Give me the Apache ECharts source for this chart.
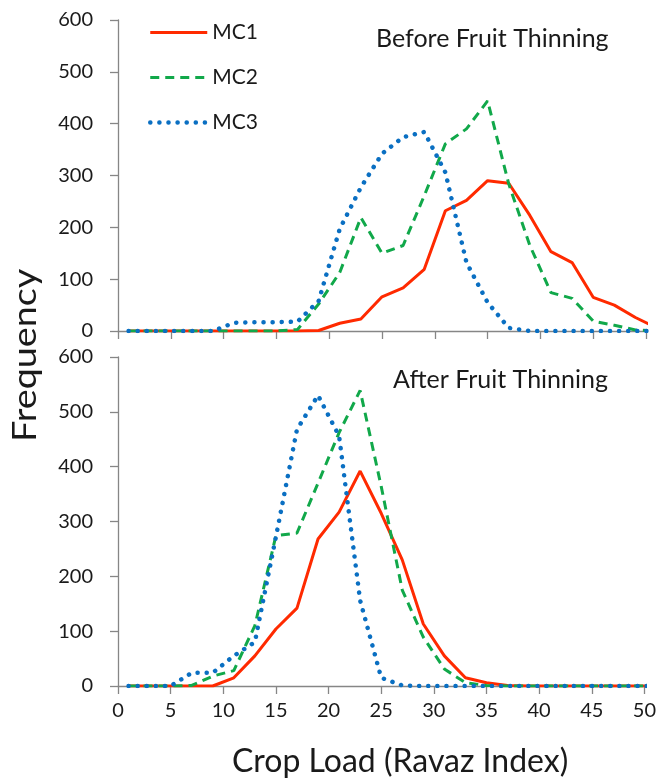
<!DOCTYPE html>
<html>
<head>
<meta charset="utf-8">
<title>Crop Load</title>
<script src="https://cdn.jsdelivr.net/npm/echarts@6/dist/echarts.min.js"></script>
<style>
  html, body { margin: 0; padding: 0; background: #fff; }
  #chart { width: 659px; height: 779px; }
</style>
</head>
<body>
<div id="chart"></div>
<script>
// crop load bins (Ravaz index), last one falls past the axis end
var cropLoad = [1, 3, 5, 7, 9, 11, 13, 15, 17, 19, 21, 23, 25, 27, 29, 31, 33, 35, 37, 39, 41, 43, 45, 47, 49, 51];

// before fruit thinning
var beforeMC1 = [0, 0, 0, 0, 0, 0, 0, 0, 0, 1, 15, 23, 66, 83, 119, 232, 252, 290, 285, 223, 153, 132, 65, 50, 26, 6];
var beforeMC2 = [0, 0, 0, 0, 0, 0, 0, 0, 3, 52, 113, 219, 150, 165, 261, 361, 390, 444, 284, 165, 74, 63, 19, 11, 2, 0];
var beforeMC3 = [0, 0, 0, 0, 0, 16, 17, 17, 18, 58, 197, 277, 342, 374, 384, 306, 132, 55, 6, 0, 0, 0, 0, 0, 0, 0];

// after fruit thinning
var afterMC1 = [0, 0, 0, 0, 0, 15, 55, 104, 142, 268, 317, 392, 315, 230, 113, 55, 15, 6, 1, 0, 0, 0, 0, 0, 0, 0];
var afterMC2 = [0, 0, 0, 1, 18, 28, 110, 274, 279, 370, 462, 539, 364, 175, 89, 31, 6, 1, 0, 0, 0, 0, 0, 0, 0, 0];
var afterMC3 = [0, 0, 0, 24, 24, 55, 80, 272, 468, 530, 456, 156, 15, 1, 0, 0, 0, 0, 0, 0, 0, 0, 0, 0, 0, 0];

var yTicks = [0, 100, 200, 300, 400, 500, 600];
var xTicks = [0, 5, 10, 15, 20, 25, 30, 35, 40, 45, 50];

var FONT = "Lato";
var TEXT = "#1a1a1a";
var AXIS = "#868686";

function pairs(vals) {
  return cropLoad.map(function (x, i) { return [x, vals[i]]; });
}

var styles = {
  MC1: { color: "#ff2a00", width: 3, type: "solid" },
  MC2: { color: "#11a84a", width: 3, type: [9, 6] },
  MC3: { color: "#0a6fc2", width: 4.5, type: [0.1, 9], cap: "round" }
};

function line(name, vals, idx) {
  var s = styles[name];
  return {
    name: name,
    type: "line",
    xAxisIndex: idx,
    yAxisIndex: idx,
    data: pairs(vals),
    symbol: "none",
    clip: true,
    z: name === "MC1" ? 3 : (name === "MC2" ? 4 : 5),
    lineStyle: { color: s.color, width: s.width, type: s.type, cap: s.cap || "butt" },
    itemStyle: { color: s.color }
  };
}

function legendItem(name) {
  var s = styles[name];
  return {
    name: name,
    itemStyle: { opacity: 0 },
    lineStyle: { color: s.color, width: s.width, type: s.type, cap: s.cap || "butt" }
  };
}

function xAxis(idx, showLabels) {
  return {
    type: "value",
    gridIndex: idx,
    min: xTicks[0],
    max: xTicks[xTicks.length - 1],
    interval: 5,
    splitLine: { show: false },
    axisLine: { lineStyle: { color: AXIS, width: 1.3 } },
    axisTick: { show: true, length: 8, lineStyle: { color: AXIS, width: 1.3 } },
    axisLabel: { show: showLabels, margin: 15, color: TEXT, fontFamily: FONT, fontSize: 20 }
  };
}

function yAxis(idx) {
  return {
    type: "value",
    gridIndex: idx,
    min: yTicks[0],
    max: yTicks[yTicks.length - 1],
    interval: 100,
    splitLine: { show: false },
    axisLine: { show: true, lineStyle: { color: AXIS, width: 1.3 } },
    axisTick: { show: true, length: 8, lineStyle: { color: AXIS, width: 1.3 } },
    axisLabel: { margin: 25, color: TEXT, fontFamily: FONT, fontSize: 20 }
  };
}

var chart = echarts.init(document.getElementById("chart"), null, { renderer: "canvas" });

chart.setOption({
  animation: false,
  backgroundColor: "#fff",
  title: [
    { text: "Before Fruit Thinning", left: 371, top: 21, textStyle: { fontFamily: FONT, fontWeight: "normal", fontSize: 25, color: TEXT } },
    { text: "After Fruit Thinning", left: 388, top: 362, textStyle: { fontFamily: FONT, fontWeight: "normal", fontSize: 25, color: TEXT } }
  ],
  legend: {
    orient: "vertical",
    left: 143,
    top: 17,
    itemWidth: 57,
    itemHeight: 14,
    itemGap: 24,
    textStyle: { fontFamily: FONT, fontSize: 21, color: TEXT },
    data: [legendItem("MC1"), legendItem("MC2"), legendItem("MC3")]
  },
  grid: [
    { left: 118, top: 20, width: 528, height: 311 },
    { left: 118, top: 357, width: 528, height: 329 }
  ],
  xAxis: [xAxis(0, false), xAxis(1, true)],
  yAxis: [yAxis(0), yAxis(1)],
  graphic: [
    {
      type: "text",
      x: 10,
      y: 442,
      rotation: Math.PI / 2,
      scaleX: 1.18,
      style: { text: "Frequency", font: "32px " + FONT, fill: TEXT }
    },
    {
      type: "text",
      left: 232,
      top: 746,
      style: { text: "Crop Load (Ravaz Index)", font: "32px " + FONT, fill: TEXT }
    }
  ],
  series: [
    line("MC1", beforeMC1, 0),
    line("MC2", beforeMC2, 0),
    line("MC3", beforeMC3, 0),
    line("MC1", afterMC1, 1),
    line("MC2", afterMC2, 1),
    line("MC3", afterMC3, 1)
  ]
});
</script>
</body>
</html>
